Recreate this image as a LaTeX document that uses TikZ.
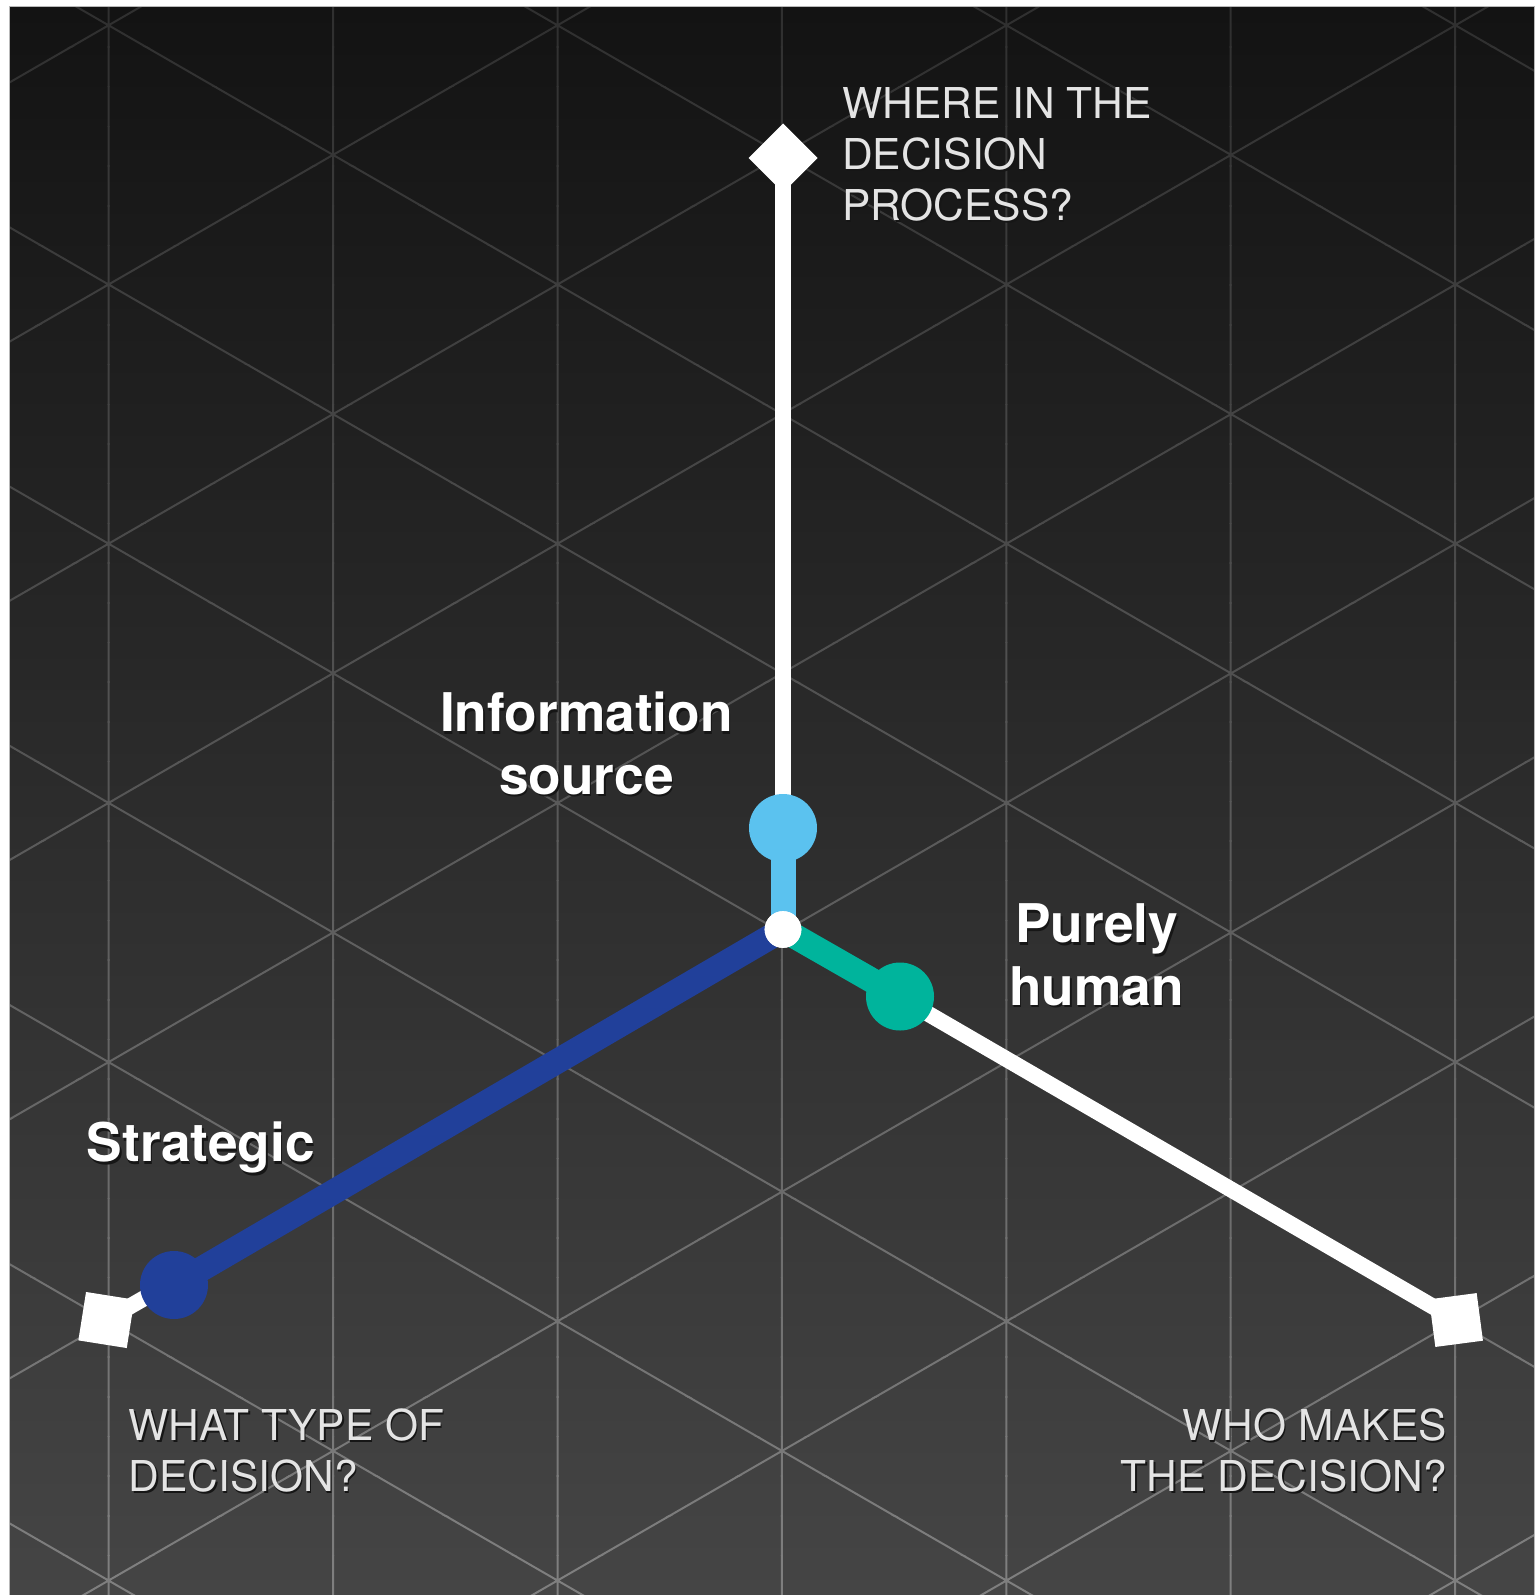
\documentclass[tikz,border=0pt]{standalone}
\usepackage{fontspec}
\setmainfont{TeX Gyre Heros}
\pgfdeclarelayer{bg}
\pgfdeclarelayer{axes}
\pgfsetlayers{bg,axes,main}

\definecolor{bgtop}{HTML}{131313}
\definecolor{bgbot}{HTML}{454545}
\definecolor{gridtop}{HTML}{2F2F2F}
\definecolor{gridbot}{HTML}{808080}
\definecolor{infoblue}{HTML}{5BC2EF}
\definecolor{humanteal}{HTML}{00B49C}
\definecolor{stratblue}{HTML}{21409A}
\definecolor{qtext}{HTML}{E4E4E4}
\definecolor{shadowc}{HTML}{161616}

\newcommand\shtext[2]{\leavevmode\rlap{\hspace*{1.5pt}\raisebox{-2.5pt}{\color{shadowc}#2}}{\color{#1}#2}}
\newcommand\lblines[2]{\begin{tabular}[t]{@{}#1@{}}#2\end{tabular}}

\tikzset{
  gridline/.style={line width=2pt},
  axisline/.style={draw=white, line width=16pt},
  segline/.style={draw=#1, line width=25pt},
  enddot/.style={circle, fill=#1, draw=none, minimum size=68pt, inner sep=0pt},
  hubdot/.style={circle, fill=white, draw=none, minimum size=36.7pt, inner sep=0pt},
  endsq/.style={rectangle, fill=white, draw=none, minimum size=#1, inner sep=0pt},
  qlabel/.style={inner sep=0pt, font=\fontsize{42.5}{51}\selectfont},
  blabel/.style={inner sep=0pt, font=\fontsize{53.3}{62.5}\selectfont\bfseries}
}

\begin{document}
\begin{tikzpicture}[x=1pt,y=-1pt]
\useasboundingbox (0,0) rectangle (1537,1595);

% background and grid
\begin{pgfonlayer}{bg}
\fill[white] (0,0) rectangle (1537,1595);
\shade[top color=bgtop, bottom color=bgbot] (9.5,7) rectangle (1534,1595);
\foreach \b in {0,...,39} {
  \pgfmathsetmacro\ya{7+\b*39.7}
  \pgfmathsetmacro\yb{\ya+40.2}
  \pgfmathsetmacro\tt{100-(\b+0.5)*2.5}
  \begin{scope}
    \clip (9.5,\ya) rectangle (1534,\yb);
    \draw[gridline, color=gridtop!\tt!gridbot]
      \foreach \n in {-7,...,6} {
        (-100,{423.3+\n*259.2}) -- (1700,{1462.5+\n*259.2})
        (-100,{1441.7+\n*259.2}) -- (1700,{402.5+\n*259.2})
      }
      \foreach \k in {0,...,6} {
        ({108.7+224.4*\k},0) -- ({108.7+224.4*\k},1600)
      };
  \end{scope}
}
\draw[gray!55, line width=1pt] (9.5,1595) -- (9.5,7) -- (1534,7) -- (1534,1595);
\end{pgfonlayer}

% nodes
\node[hubdot] (O) at (783,929.5) {};
\node[endsq=48.8pt, rotate=45] (topend) at (783,158) {};
\node[endsq=49pt, rotate=-9] (llend) at (106.4,1320) {};
\node[endsq=48pt, rotate=7.5] (lrend) at (1456,1320) {};
\node[enddot=infoblue] (infodot) at (783,828) {};
\node[enddot=humanteal] (humandot) at (900,996.5) {};
\node[enddot=stratblue] (stratdot) at (174,1285) {};
\node[hubdot] at (O) {};

% connectors
\begin{pgfonlayer}{axes}
\draw[axisline] (O.center) -- (topend.center);
\draw[axisline] (O.center) -- (lrend.center);
\draw[axisline] (O.center) -- (llend.center);
\draw[segline=infoblue] (O.center) -- (infodot.center);
\draw[segline=humanteal] (O.center) -- (humandot.center);
\draw[segline=stratblue] (O.center) -- (stratdot.center);
\end{pgfonlayer}

% labels
\node[qlabel, anchor=base west] (qwhere) at (842,118.3)
  {\shtext{qtext}{\lblines{l}{WHERE IN THE\\DECISION\\PROCESS?}}};
\node[qlabel, anchor=base west] (qwhat) at (128.5,1440)
  {\shtext{qtext}{\lblines{l}{WHAT TYPE OF\\DECISION?}}};
\node[qlabel, anchor=base east] (qwho) at (1447,1440)
  {\shtext{qtext}{\lblines{r}{WHO MAKES\\THE DECISION?}}};
\node[blabel, anchor=base] (linfo) at (586.4,731.7)
  {\shtext{white}{\lblines{c}{Information\\source}}};
\node[blabel, anchor=base] (lhuman) at (1096.6,942.7)
  {\shtext{white}{\lblines{c}{Purely\\human}}};
\node[blabel, anchor=base west] (lstrat) at (86.5,1161.7)
  {\shtext{white}{Strategic}};
\end{tikzpicture}
\end{document}
